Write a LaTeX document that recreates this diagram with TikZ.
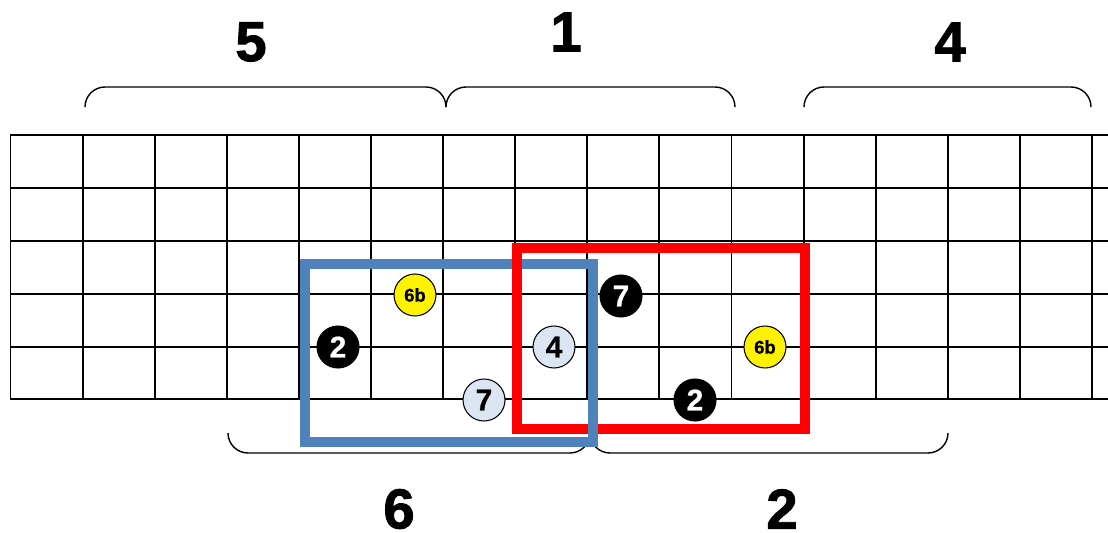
\documentclass[tikz,border=0pt]{standalone}
\usepackage{fontspec}
\setmainfont{Liberation Sans}
\newfontfamily\heavyfont[FakeBold=1.6]{Liberation Sans Bold}
\newfontfamily\notefont[FakeBold=0.8]{Liberation Sans Bold}
\usepackage{xcolor}
\usepackage{tikz}
\definecolor{paleblue}{HTML}{DCE6F2}
\definecolor{boxblue}{HTML}{4F81BD}

\begin{document}
\begin{tikzpicture}[x=0.02cm,y=-0.02cm,
  dot/.style={circle,draw=black,line width=0.6pt,minimum size=0.84cm,inner sep=0pt,font=\fontsize{17}{17}\notefont},
  dotblack/.style={dot,fill=black,text=white},
  dotpale/.style={dot,fill=paleblue},
  dotyellow/.style={dot,fill=yellow,font=\fontsize{10.5}{10.5}\notefont},
  lbl/.style={inner sep=0pt,font=\fontsize{32}{32}\heavyfont},
  brace/.style={line width=0.8pt,rounded corners=0.4cm},
  box/.style={line width=0.2cm}]
\useasboundingbox (0,0) rectangle (1108,533);
\def\fret{72.1}
% strings and frets
\foreach \y in {135,188,241,294,347,399}
  \draw[line width=1.1pt] (10,\y) -- (1108,\y);
\foreach \i in {0,...,15}
  \draw[line width=1.1pt] ({10.5+\fret*\i},135) -- ({10.5+\fret*\i},399);
% braces
\draw[brace] (85,106) -- (85,87) -- (446,87) -- (446,106);
\draw[brace] (446,106) -- (446,87) -- (735,87) -- (735,106);
\draw[brace] (804,106) -- (804,87) -- (1091,87) -- (1091,106);
\draw[brace] (228,433) -- (228,453) -- (590,453) -- (590,434);
\draw[brace] (590,434) -- (590,453) -- (948,453) -- (948,433);
\node[lbl] (l5) at (251,42) {5};
\node[lbl] (l1) at (566,32) {1};
\node[lbl] (l4) at (950,42) {4};
\node[lbl] (l6) at (399,509) {6};
\node[lbl] (l2) at (782,509) {2};
% boxes
\draw[box,boxblue] (305,264) rectangle (593,442);
\draw[box,red] (517,248) rectangle (805,429);
\draw[box,boxblue] (593,264) -- (593,442);
% notes
\node[dotyellow] (n6ba) at (415,295) {6b};
\node[dotblack] (n2a) at (338,347) {2};
\node[dotpale] (n4) at (554,347) {4};
\node[dotpale] (n7a) at (484,400) {7};
\node[dotblack] (n7b) at (621,296) {7};
\node[dotblack] (n2b) at (695,400) {2};
\node[dotyellow] (n6bb) at (765,347) {6b};
\end{tikzpicture}
\end{document}
